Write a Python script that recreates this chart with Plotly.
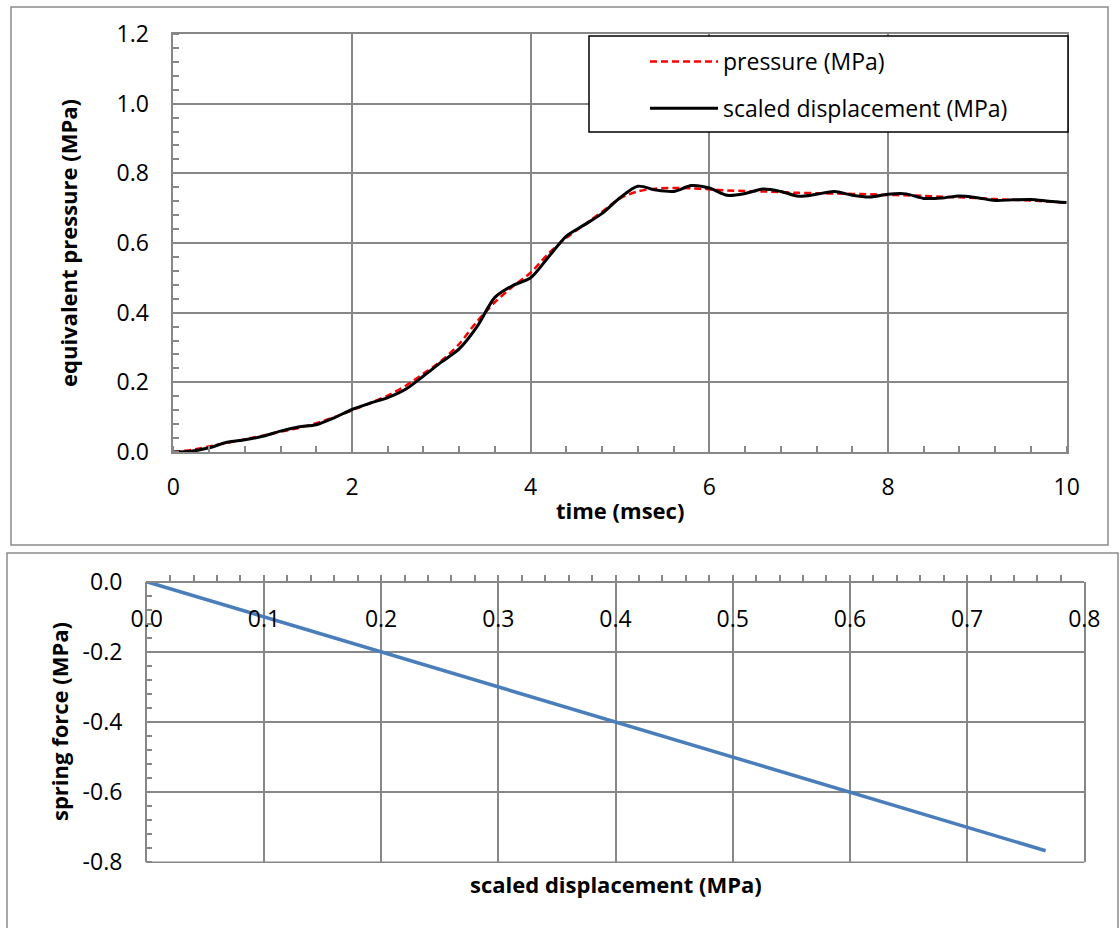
import plotly.graph_objects as go

# ---------------- data ----------------
time_ms = [0.0, 0.2, 0.4, 0.6, 0.8, 1.0, 1.2, 1.4, 1.6, 1.8,
           2.0, 2.2, 2.4, 2.6, 2.8, 3.0, 3.2, 3.4, 3.6, 3.8,
           4.0, 4.2, 4.4, 4.6, 4.8, 5.0, 5.2, 5.4, 5.6, 5.8,
           6.0, 6.2, 6.4, 6.6, 6.8, 7.0, 7.2, 7.4, 7.6, 7.8,
           8.0, 8.2, 8.4, 8.6, 8.8, 9.0, 9.2, 9.4, 9.6, 9.8, 10.0]

pressure = [0.000, 0.006, 0.016, 0.026, 0.036, 0.047, 0.058, 0.069, 0.083, 0.100,
            0.120, 0.140, 0.162, 0.190, 0.225, 0.262, 0.310, 0.375, 0.430, 0.475,
            0.515, 0.570, 0.615, 0.652, 0.690, 0.728, 0.748, 0.756, 0.758, 0.757,
            0.754, 0.751, 0.749, 0.748, 0.746, 0.744, 0.743, 0.742, 0.741, 0.740,
            0.738, 0.737, 0.735, 0.733, 0.731, 0.729, 0.726, 0.724, 0.722, 0.719, 0.716]

scaled_disp = [0.000, 0.002, 0.012, 0.028, 0.035, 0.045, 0.060, 0.072, 0.078, 0.098,
               0.122, 0.140, 0.156, 0.180, 0.218, 0.258, 0.296, 0.360, 0.444, 0.478,
               0.500, 0.560, 0.620, 0.652, 0.685, 0.730, 0.763, 0.752, 0.748, 0.765,
               0.758, 0.737, 0.742, 0.755, 0.748, 0.734, 0.740, 0.748, 0.737, 0.732,
               0.740, 0.741, 0.728, 0.729, 0.735, 0.730, 0.722, 0.724, 0.725, 0.720, 0.716]

spring_disp = [0.0, 0.1, 0.2, 0.3, 0.4, 0.5, 0.6, 0.7, 0.767]
spring_force = [0.0, -0.1, -0.2, -0.3, -0.4, -0.5, -0.6, -0.7, -0.767]

y1_tickvals = [0.0, 0.2, 0.4, 0.6, 0.8, 1.0, 1.2]
y1_ticktext = ["0.0", "0.2", "0.4", "0.6", "0.8", "1.0", "1.2"]
x1_tickvals = [0, 2, 4, 6, 8, 10]
x1_ticktext = ["0", "2", "4", "6", "8", "10"]
x2_tickvals = [0.0, 0.1, 0.2, 0.3, 0.4, 0.5, 0.6, 0.7, 0.8]
x2_ticktext = ["0.0", "0.1", "0.2", "0.3", "0.4", "0.5", "0.6", "0.7", "0.8"]
y2_tickvals = [0.0, -0.2, -0.4, -0.6, -0.8]
y2_ticktext = ["0.0", "-0.2", "-0.4", "-0.6", "-0.8"]

# ---------------- layout helpers ----------------
W, H = 1120, 928
def px(x):
    return x / W
def py(y):
    return 1 - y / H

FONT = "Open Sans"
GRID = "#878787"
FRAME = "#8c8c8c"
FS = 23
TFS = 22

fig = go.Figure()
fig.add_trace(go.Scatter(
    x=time_ms, y=pressure, mode="lines", name="pressure (MPa)",
    line=dict(color="#FF0000", width=2.5, dash="7px,4px", shape="spline", smoothing=0.8),
    legendgroup="a", xaxis="x", yaxis="y"))
fig.add_trace(go.Scatter(
    x=time_ms, y=scaled_disp, mode="lines", name="scaled displacement (MPa)",
    line=dict(color="#000000", width=3, shape="spline", smoothing=0.8),
    legendgroup="b", xaxis="x", yaxis="y"))
fig.add_trace(go.Scatter(
    x=spring_disp, y=spring_force, mode="lines", showlegend=False,
    line=dict(color="#4A7EBB", width=3.5),
    xaxis="x2", yaxis="y2"))

axis_common = dict(
    showgrid=True, gridcolor=GRID, gridwidth=1.5,
    showline=True, linecolor=GRID, linewidth=1.5, mirror=True,
    zeroline=False, tickmode="array",
    tickfont=dict(family=FONT, size=FS, color="#000000"),
    automargin=False,
)

x2_domain = [px(146.7), px(1084.3)]
y2_domain = [py(862.3), py(581.7)]

fig.update_layout(
    width=W, height=H,
    margin=dict(l=0, r=0, t=0, b=0),
    paper_bgcolor="white", plot_bgcolor="white",
    font=dict(family=FONT, size=FS, color="#000000"),
    xaxis=dict(axis_common, domain=[px(173.3), px(1066.7)], range=[0, 10],
               tickvals=x1_tickvals, ticktext=x1_ticktext, anchor="y",
               ticks="", ticklabelstandoff=14,
               minor=dict(dtick=0.4, tick0=0, ticks="inside", ticklen=6,
                          tickcolor=GRID, tickwidth=1.5, showgrid=False)),
    yaxis=dict(axis_common, domain=[py(452), py(34)], range=[0, 1.2],
               tickvals=y1_tickvals, ticktext=y1_ticktext, anchor="x",
               ticks="", ticklabelstandoff=18,
               minor=dict(dtick=0.04, tick0=0, ticks="inside", ticklen=6,
                          tickcolor=GRID, tickwidth=1.5, showgrid=False)),
    # bottom chart: x axis crosses at y = 0 (top edge), labels below it
    xaxis2=dict(axis_common, domain=x2_domain, range=[0, 0.8],
                tickvals=x2_tickvals, ticktext=x2_ticktext,
                anchor="free", position=y2_domain[1], side="bottom", mirror=False,
                ticks="inside", ticklen=6, tickcolor=GRID, tickwidth=1.5,
                ticklabelstandoff=17,
                minor=dict(dtick=0.02, tick0=0, ticks="inside", ticklen=6,
                           tickcolor=GRID, tickwidth=1.5, showgrid=False)),
    yaxis2=dict(axis_common, domain=y2_domain, range=[-0.8, 0],
                tickvals=y2_tickvals, ticktext=y2_ticktext, anchor="x2",
                ticks="", ticklabelstandoff=18,
                minor=dict(dtick=0.04, tick0=0, ticks="inside", ticklen=6,
                           tickcolor=GRID, tickwidth=1.5, showgrid=False)),
    legend=dict(x=px(645), y=py(40), xanchor="left", yanchor="top",
                bgcolor="rgba(0,0,0,0)", borderwidth=0,
                font=dict(family=FONT, size=FS, color="#000000"),
                itemwidth=68, tracegroupgap=14, traceorder="grouped"),
    showlegend=True,
)

# bottom edge of the lower plot area
fig.add_shape(type="line", xref="paper", yref="paper",
              x0=x2_domain[0], x1=x2_domain[1], y0=y2_domain[0], y1=y2_domain[0],
              line=dict(color=GRID, width=1.5), layer="below")

# chart frames and legend box
fig.add_shape(type="rect", xref="paper", yref="paper",
              x0=px(11), x1=px(1108), y0=py(545), y1=py(7),
              line=dict(color=FRAME, width=1.5), fillcolor="rgba(0,0,0,0)", layer="above")
fig.add_shape(type="rect", xref="paper", yref="paper",
              x0=px(7), x1=px(1118), y0=py(940), y1=py(553),
              line=dict(color=FRAME, width=1.5), fillcolor="rgba(0,0,0,0)", layer="above")
fig.add_shape(type="rect", xref="paper", yref="paper",
              x0=px(589), x1=px(1068), y0=py(132), y1=py(36),
              line=dict(color="#000000", width=1.5), fillcolor="white", layer="above")

# axis titles
title_font = dict(family=FONT, size=TFS, color="#000000")
common_ann = dict(xref="paper", yref="paper", showarrow=False, font=title_font,
                  xanchor="center", yanchor="middle")
fig.add_annotation(text="<b>equivalent pressure (MPa)</b>", x=px(68), y=py(243),
                   textangle=-90, **common_ann)
fig.add_annotation(text="<b>time (msec)</b>", x=px(620), y=py(510), **common_ann)
fig.add_annotation(text="<b>spring force (MPa)</b>", x=px(59), y=py(722),
                   textangle=-90, **common_ann)
fig.add_annotation(text="<b>scaled displacement (MPa)</b>", x=px(616), y=py(884),
                   **common_ann)

fig.write_html(
    "out.html",
    config={"displayModeBar": False},
    post_script="document.body.style.margin='0';document.body.style.overflow='hidden';",
)
